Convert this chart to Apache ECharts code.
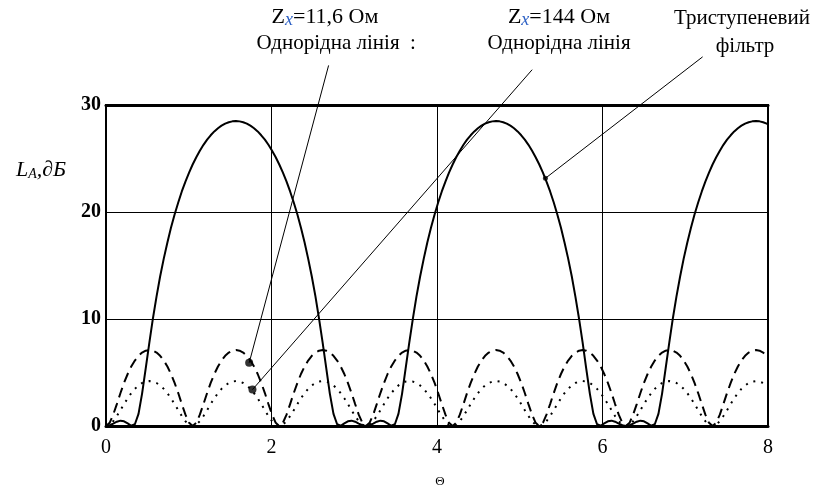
<!DOCTYPE html>
<html>
<head>
<meta charset="utf-8">
<script src="https://cdn.jsdelivr.net/npm/echarts@6/dist/echarts.min.js"></script>
<style>
  html, body { margin: 0; padding: 0; background: #fff; }
  #chart { width: 818px; height: 491px; }
</style>
</head>
<body>
<div id="chart"></div>
<script>
// electrical length, step ~pi/72
const theta = [
  0, 0.044, 0.087, 0.131, 0.175, 0.218, 0.262, 0.305, 0.349, 0.393, 0.436, 0.480,
  0.524, 0.567, 0.611, 0.654, 0.698, 0.742, 0.785, 0.829, 0.873, 0.916, 0.960, 1.004,
  1.047, 1.091, 1.134, 1.178, 1.222, 1.265, 1.309, 1.353, 1.396, 1.440, 1.484, 1.527,
  1.571, 1.614, 1.658, 1.702, 1.745, 1.789, 1.833, 1.876, 1.920, 1.963, 2.007, 2.051,
  2.094, 2.138, 2.182, 2.225, 2.269, 2.313, 2.356, 2.400, 2.443, 2.487, 2.531, 2.574,
  2.618, 2.662, 2.705, 2.749, 2.793, 2.836, 2.880, 2.923, 2.967, 3.011, 3.054, 3.098,
  3.142, 3.185, 3.229, 3.272, 3.316, 3.360, 3.403, 3.447, 3.491, 3.534, 3.578, 3.621,
  3.665, 3.709, 3.752, 3.796, 3.840, 3.883, 3.927, 3.971, 4.014, 4.058, 4.102, 4.145,
  4.189, 4.232, 4.276, 4.320, 4.363, 4.407, 4.451, 4.494, 4.538, 4.581, 4.625, 4.669,
  4.712, 4.756, 4.800, 4.843, 4.887, 4.931, 4.974, 5.018, 5.061, 5.105, 5.149, 5.192,
  5.236, 5.280, 5.323, 5.367, 5.411, 5.454, 5.498, 5.541, 5.585, 5.629, 5.672, 5.716,
  5.760, 5.803, 5.847, 5.890, 5.934, 5.978, 6.021, 6.065, 6.109, 6.152, 6.196, 6.240,
  6.283, 6.327, 6.370, 6.414, 6.458, 6.501, 6.545, 6.589, 6.632, 6.676, 6.720, 6.763,
  6.807, 6.850, 6.894, 6.938, 6.981, 7.025, 7.069, 7.112, 7.156, 7.200, 7.243, 7.287,
  7.330, 7.374, 7.418, 7.461, 7.505, 7.549, 7.592, 7.636, 7.679, 7.723, 7.767, 7.810,
  7.854, 7.898, 7.941, 7.985, 8.000
];

// Триступеневий фільтр, дБ
const filterLoss = [
  0, 0.07, 0.23, 0.40, 0.50, 0.44, 0.24, 0.02, 0.16, 1.13, 3.03, 5.39,
  7.79, 10.05, 12.11, 13.97, 15.64, 17.15, 18.52, 19.77, 20.89, 21.92, 22.84, 23.68,
  24.44, 25.12, 25.73, 26.28, 26.76, 27.17, 27.53, 27.83, 28.07, 28.26, 28.39, 28.47,
  28.50, 28.47, 28.39, 28.26, 28.07, 27.83, 27.53, 27.17, 26.76, 26.28, 25.73, 25.12,
  24.44, 23.68, 22.84, 21.92, 20.89, 19.77, 18.52, 17.15, 15.64, 13.97, 12.11, 10.05,
  7.79, 5.39, 3.03, 1.13, 0.16, 0.02, 0.24, 0.44, 0.50, 0.40, 0.23, 0.07,
  0, 0.07, 0.23, 0.40, 0.50, 0.44, 0.24, 0.02, 0.16, 1.13, 3.03, 5.39,
  7.79, 10.05, 12.11, 13.97, 15.64, 17.15, 18.52, 19.77, 20.89, 21.92, 22.84, 23.68,
  24.44, 25.12, 25.73, 26.28, 26.76, 27.17, 27.53, 27.83, 28.07, 28.26, 28.39, 28.47,
  28.50, 28.47, 28.39, 28.26, 28.07, 27.83, 27.53, 27.17, 26.76, 26.28, 25.73, 25.12,
  24.44, 23.68, 22.84, 21.92, 20.89, 19.77, 18.52, 17.15, 15.64, 13.97, 12.11, 10.05,
  7.79, 5.39, 3.03, 1.13, 0.16, 0.02, 0.24, 0.44, 0.50, 0.40, 0.23, 0.07,
  0, 0.07, 0.23, 0.40, 0.50, 0.44, 0.24, 0.02, 0.16, 1.13, 3.03, 5.39,
  7.79, 10.05, 12.11, 13.97, 15.64, 17.15, 18.52, 19.77, 20.89, 21.92, 22.84, 23.68,
  24.44, 25.12, 25.73, 26.28, 26.76, 27.17, 27.53, 27.83, 28.07, 28.26, 28.39, 28.47,
  28.50, 28.47, 28.39, 28.26, 28.19
];

// Однорідна лінія Zx=11,6 Ом, дБ
const line116Loss = [
  0, 0.30, 1.06, 2.05, 3.08, 4.03, 4.86, 5.56, 6.12, 6.56, 6.86, 7.04, 7.10, 7.04, 6.86, 6.56, 6.12, 5.56, 4.86, 4.03, 3.08, 2.05, 1.06, 0.30,
  0, 0.30, 1.06, 2.05, 3.08, 4.03, 4.86, 5.56, 6.12, 6.56, 6.86, 7.04, 7.10, 7.04, 6.86, 6.56, 6.12, 5.56, 4.86, 4.03, 3.08, 2.05, 1.06, 0.30,
  0, 0.30, 1.06, 2.05, 3.08, 4.03, 4.86, 5.56, 6.12, 6.56, 6.86, 7.04, 7.10, 7.04, 6.86, 6.56, 6.12, 5.56, 4.86, 4.03, 3.08, 2.05, 1.06, 0.30,
  0, 0.30, 1.06, 2.05, 3.08, 4.03, 4.86, 5.56, 6.12, 6.56, 6.86, 7.04, 7.10, 7.04, 6.86, 6.56, 6.12, 5.56, 4.86, 4.03, 3.08, 2.05, 1.06, 0.30,
  0, 0.30, 1.06, 2.05, 3.08, 4.03, 4.86, 5.56, 6.12, 6.56, 6.86, 7.04, 7.10, 7.04, 6.86, 6.56, 6.12, 5.56, 4.86, 4.03, 3.08, 2.05, 1.06, 0.30,
  0, 0.30, 1.06, 2.05, 3.08, 4.03, 4.86, 5.56, 6.12, 6.56, 6.86, 7.04, 7.10, 7.04, 6.86, 6.56, 6.12, 5.56, 4.86, 4.03, 3.08, 2.05, 1.06, 0.30,
  0, 0.30, 1.06, 2.05, 3.08, 4.03, 4.86, 5.56, 6.12, 6.56, 6.86, 7.04, 7.10, 7.04, 6.86, 6.56, 6.12, 5.56, 4.86, 4.03, 3.08, 2.05, 1.06, 0.30,
  0, 0.30, 1.06, 2.05, 3.08, 4.03, 4.86, 5.56, 6.12, 6.56, 6.86, 7.04, 7.10, 7.04, 6.86, 6.56, 6.41
];

// Однорідна лінія Zx=144 Ом, дБ
const line144Loss = [
  0, 0.12, 0.45, 0.93, 1.48, 2.05, 2.59, 3.07, 3.47, 3.79, 4.02, 4.15, 4.20, 4.15, 4.02, 3.79, 3.47, 3.07, 2.59, 2.05, 1.48, 0.93, 0.45, 0.12,
  0, 0.12, 0.45, 0.93, 1.48, 2.05, 2.59, 3.07, 3.47, 3.79, 4.02, 4.15, 4.20, 4.15, 4.02, 3.79, 3.47, 3.07, 2.59, 2.05, 1.48, 0.93, 0.45, 0.12,
  0, 0.12, 0.45, 0.93, 1.48, 2.05, 2.59, 3.07, 3.47, 3.79, 4.02, 4.15, 4.20, 4.15, 4.02, 3.79, 3.47, 3.07, 2.59, 2.05, 1.48, 0.93, 0.45, 0.12,
  0, 0.12, 0.45, 0.93, 1.48, 2.05, 2.59, 3.07, 3.47, 3.79, 4.02, 4.15, 4.20, 4.15, 4.02, 3.79, 3.47, 3.07, 2.59, 2.05, 1.48, 0.93, 0.45, 0.12,
  0, 0.12, 0.45, 0.93, 1.48, 2.05, 2.59, 3.07, 3.47, 3.79, 4.02, 4.15, 4.20, 4.15, 4.02, 3.79, 3.47, 3.07, 2.59, 2.05, 1.48, 0.93, 0.45, 0.12,
  0, 0.12, 0.45, 0.93, 1.48, 2.05, 2.59, 3.07, 3.47, 3.79, 4.02, 4.15, 4.20, 4.15, 4.02, 3.79, 3.47, 3.07, 2.59, 2.05, 1.48, 0.93, 0.45, 0.12,
  0, 0.12, 0.45, 0.93, 1.48, 2.05, 2.59, 3.07, 3.47, 3.79, 4.02, 4.15, 4.20, 4.15, 4.02, 3.79, 3.47, 3.07, 2.59, 2.05, 1.48, 0.93, 0.45, 0.12,
  0, 0.12, 0.45, 0.93, 1.48, 2.05, 2.59, 3.07, 3.47, 3.79, 4.02, 4.15, 4.20, 4.15, 4.02, 3.79, 3.68
];

// leader lines: point on curve -> end near the caption (data coords)
const leaderFrom = [[1.73, 5.9], [1.77, 3.4], [5.31, 23.15]];
const leaderTo = [[2.69, 33.7], [5.15, 33.3], [7.21, 34.5]];

const serif = '"Liberation Serif", "Times New Roman", serif';
const pairs = ys => theta.map((t, i) => [t, ys[i]]);

const chart = echarts.init(document.getElementById('chart'));

const curve = (name, ys, type) => ({
  name,
  type: 'line',
  data: pairs(ys),
  showSymbol: false,
  symbol: 'none',
  animation: false,
  lineStyle: { color: '#000', width: 2, type, cap: 'butt' },
  z: 3
});

const leaders = leaderFrom.map((p, i) => ({
  type: 'line',
  data: [p, leaderTo[i]],
  symbol: 'none',
  clip: false,
  animation: false,
  lineStyle: { color: '#000', width: 1 },
  z: 4
}));

const caption = (x, y, text, rich) => ({
  type: 'text',
  x, y,
  style: {
    text,
    align: 'center',
    verticalAlign: 'middle',
    font: '21px ' + serif,
    fill: '#000',
    rich
  }
});

const zRich = {
  z: { fontSize: 22, fontFamily: serif, fill: '#000' },
  s: { fontSize: 18, fontFamily: serif, fontStyle: 'italic', fill: '#2b5fc4', padding: [7, 0, 0, 0] },
  t: { fontSize: 22, fontFamily: serif, fill: '#000' }
};

const option = {
  backgroundColor: '#fff',
  animation: false,
  grid: {
    left: 106, right: 50, top: 105, bottom: 65,
    show: true, borderColor: '#000', borderWidth: 2
  },
  xAxis: [{
    type: 'value',
    min: 0, max: 8, interval: 2,
    axisLine: { show: true, lineStyle: { color: '#000', width: 3 } },
    axisTick: { show: false },
    axisLabel: { color: '#000', fontFamily: serif, fontSize: 20, margin: 12 },
    splitLine: { show: true, lineStyle: { color: '#000', width: 1 } }
  }, {
    type: 'value',
    position: 'top',
    min: 0, max: 8,
    axisLine: { show: true, lineStyle: { color: '#000', width: 3 } },
    axisTick: { show: false },
    axisLabel: { show: false },
    splitLine: { show: false }
  }],
  yAxis: {
    type: 'value',
    min: 0, max: 30, interval: 10,
    axisLine: { show: true, lineStyle: { color: '#000', width: 2 } },
    axisTick: { show: false },
    axisLabel: {
      color: '#000', fontFamily: serif, fontSize: 20, fontWeight: 'bold',
      margin: 5, padding: [10, 0, 0, 0]
    },
    splitLine: { show: true, lineStyle: { color: '#000', width: 1 } }
  },
  series: [
    curve('Триступеневий фільтр', filterLoss, 'solid'),
    curve('Zx=11,6 Ом', line116Loss, [10, 6]),
    curve('Zx=144 Ом', line144Loss, [2, 6]),
    ...leaders,
    {
      type: 'scatter',
      data: leaderFrom,
      symbol: 'circle',
      symbolSize: (v, p) => (p.dataIndex === 2 ? 5 : 8),
      itemStyle: { color: '#000' },
      animation: false,
      z: 5
    }
  ],
  graphic: [
    caption(325, 17, '{z|Z}{s|x}{t|=11,6 Ом}', zRich),
    caption(328, 43, 'Однорідна лінія'),
    caption(413, 43, ':'),
    caption(559, 17, '{z|Z}{s|x}{t|=144 Ом}', zRich),
    caption(559, 43, 'Однорідна лінія'),
    caption(742, 18, 'Триступеневий'),
    caption(745, 46, 'фільтр'),
    caption(41, 170, '{l|L}{a|A}{r|,∂Б}', {
      l: { fontSize: 22, fontFamily: serif, fontStyle: 'italic', fill: '#000' },
      a: { fontSize: 14, fontFamily: serif, fontStyle: 'italic', fill: '#000', padding: [9, 0, 0, 0] },
      r: { fontSize: 22, fontFamily: serif, fontStyle: 'italic', fill: '#000' }
    }),
    {
      type: 'text',
      x: 440, y: 482,
      style: { text: 'Θ', align: 'center', verticalAlign: 'middle', font: '13px ' + serif, fill: '#000' }
    }
  ]
};

chart.setOption(option);
window.addEventListener('resize', () => chart.resize());
</script>
</body>
</html>
